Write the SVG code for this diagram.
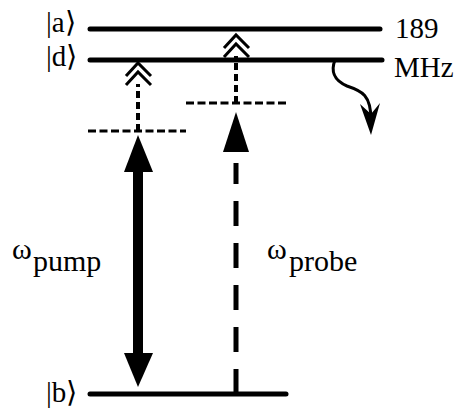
<svg xmlns="http://www.w3.org/2000/svg" width="460" height="412" viewBox="0 0 460 412">
<style>
.lvl{stroke:#000;stroke-width:5;stroke-linecap:round;fill:none}
.hdash{stroke:#000;stroke-width:3;stroke-dasharray:8 3.5;fill:none}
.dot{stroke:#000;stroke-width:4;stroke-dasharray:7 4;fill:none}
.chev{stroke:#000;stroke-width:3;fill:none}
</style>
<rect width="460" height="412" fill="#fff"/>
<g id="level-a"><line class="lvl" x1="90" y1="29" x2="380" y2="29"/><text x="46" y="32" font-family="Liberation Serif, Times New Roman, serif" font-size="29">|a⟩</text></g>
<g id="level-d"><line class="lvl" x1="90" y1="60" x2="382" y2="60"/><text x="46" y="66" font-family="Liberation Serif, Times New Roman, serif" font-size="29">|d⟩</text></g>
<g id="level-b"><line class="lvl" x1="90" y1="394" x2="286" y2="394"/><text x="46" y="402" font-family="Liberation Serif, Times New Roman, serif" font-size="29">|b⟩</text></g>
<g id="splitting"><text x="395" y="38" font-family="Liberation Serif, Times New Roman, serif" font-size="29">189</text><text x="394" y="77" font-family="Liberation Serif, Times New Roman, serif" font-size="29">MHz</text></g>
<g id="virtual-pump"><line class="hdash" x1="88" y1="131" x2="186" y2="131"/></g>
<g id="virtual-probe"><line class="hdash" x1="186" y1="103" x2="286" y2="103"/></g>
<g id="connectors">
<line class="dot" x1="138" y1="131" x2="138" y2="84"/>
<polyline class="chev" points="126,76 138,63 151,76"/>
<polyline class="chev" points="126,85 138,72 151,85"/>
<line class="dot" x1="236" y1="103" x2="236" y2="56"/>
<polyline class="chev" points="224,48 236,35 249,48"/>
<polyline class="chev" points="224,57 236,44 249,57"/>
<rect x="133" y="168" width="10" height="190" fill="#000"/>
<polygon points="138,135 124,172 153,172" fill="#000"/>
<polygon points="138,387 124,353 153,353" fill="#000"/>
<line x1="236" y1="394" x2="236" y2="163" stroke="#000" stroke-width="5" stroke-dasharray="25 17"/>
<polygon points="236,112 223,152 249,152" fill="#000"/>
<path d="M335,60 C331,70 333,80 347,86 C362,91 371,95 371,120" stroke="#000" stroke-width="3" fill="none"/>
<polygon points="371,135 360,104 371,114 380,103" fill="#000"/>
</g>
<g id="labels">
<text x="12" y="259" font-family="Liberation Serif, Times New Roman, serif" font-size="30">ω</text><text x="33" y="271" font-family="Liberation Serif, Times New Roman, serif" font-size="30">pump</text>
<text x="267" y="259" font-family="Liberation Serif, Times New Roman, serif" font-size="30">ω</text><text x="289" y="271" font-family="Liberation Serif, Times New Roman, serif" font-size="30">probe</text>
</g>
</svg>
